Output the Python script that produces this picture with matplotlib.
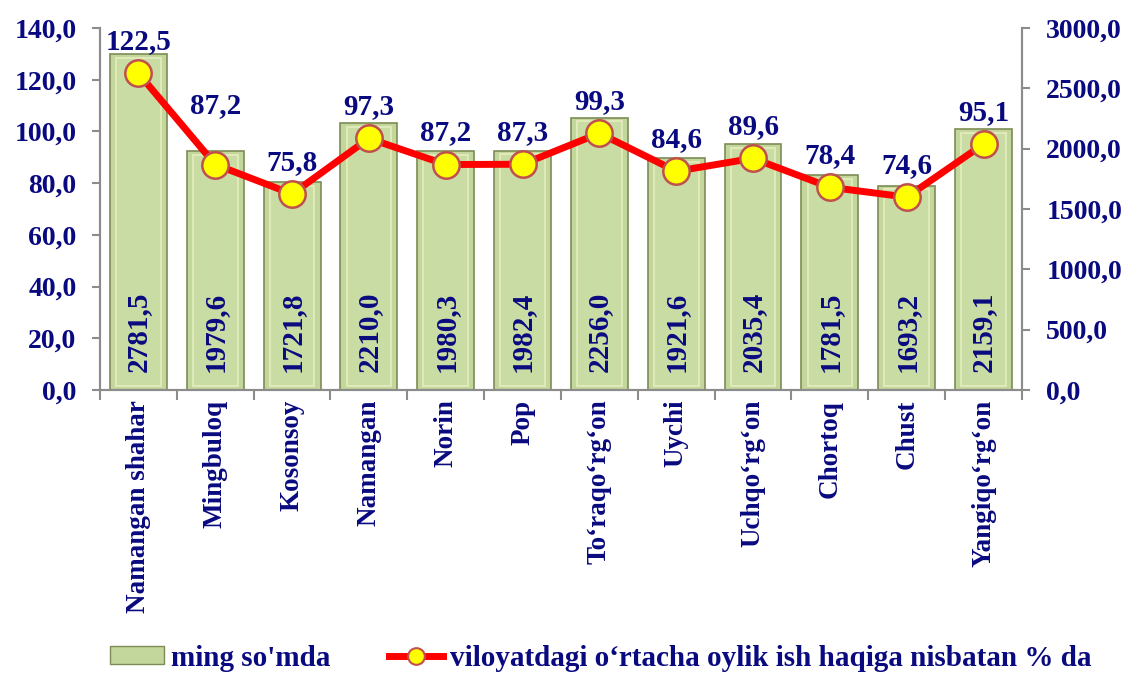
import matplotlib.pyplot as plt
import numpy as np
from matplotlib.patches import Patch
from matplotlib.lines import Line2D

categories = ['Namangan shahar', 'Mingbuloq', 'Kosonsoy', 'Namangan', 'Norin', 'Pop',
              'To\u2018raqo\u2018rg\u2018on', 'Uychi', 'Uchqo\u2018rg\u2018on', 'Chortoq', 'Chust',
              'Yangiqo\u2018rg\u2018on']
salary = [2781.5, 1979.6, 1721.8, 2210.0, 1980.3, 1982.4, 2256.0, 1921.6, 2035.4, 1781.5, 1693.2, 2159.1]
percent = [122.5, 87.2, 75.8, 97.3, 87.2, 87.3, 99.3, 84.6, 89.6, 78.4, 74.6, 95.1]

navy = '#0a0a80'
grey = '#8c8c8c'
plt.rcParams['font.family'] = 'Liberation Serif'
plt.rcParams['font.weight'] = 'bold'


def fmt(v):
    return ('%.1f' % v).replace('.', ',')


fig = plt.figure(figsize=(11.3, 6.73), dpi=100)
ax = fig.add_axes([0.0885, 0.4205, 0.8159, 0.5379])
ax2 = ax.twinx()
ax.set_zorder(ax2.get_zorder() + 1)
ax.patch.set_visible(False)

x = np.arange(len(categories))

# bars on right axis (ming so'mda)
ax2.bar(x, salary, width=0.74, color='#c3d69b', edgecolor='#7d8c55', linewidth=1.2, zorder=2)
ax2.bar(x, np.array(salary) - 60, width=0.58, bottom=30, color='#c9dca3',
        edgecolor='#dfeab8', linewidth=1.5, zorder=3)
for xi, v in zip(x, salary):
    ax2.text(xi, 150, fmt(v), rotation=90, ha='center', va='bottom',
             fontsize=21, color=navy, fontweight='bold', zorder=4)
ax2.set_ylim(0, 3000)
ax2.set_yticks(np.arange(0, 3001, 500))
ax2.set_yticklabels([fmt(t) for t in np.arange(0, 3001, 500)])

# line on left axis (%)
ax.plot(x, percent, color='#ff0000', linewidth=5, marker='o', markersize=19,
        markerfacecolor='#ffff00', markeredgecolor='#c0504d', markeredgewidth=1.8, zorder=5)
for i, (xi, v) in enumerate(zip(x, percent)):
    off = 33 if i == 1 else 13
    ax.annotate(fmt(v), (xi, v), xytext=(0, off), textcoords='offset points',
                ha='center', va='bottom', fontsize=21, color=navy, fontweight='bold')
ax.set_ylim(0, 140)
ax.set_yticks(np.arange(0, 141, 20))
ax.set_yticklabels([fmt(t) for t in np.arange(0, 141, 20)])
ax.set_xlim(-0.5, len(categories) - 0.5)

ax.set_xticks(x)
ax.set_xticklabels(categories, rotation=90, fontsize=19.5, color=navy, fontweight='bold')
ax.set_xticks(np.arange(-0.5, len(categories)), minor=True)
ax.tick_params(axis='x', which='major', length=0, pad=7)
ax.tick_params(axis='x', which='minor', length=7, color=grey, width=1.5)

for a in (ax, ax2):
    a.spines['top'].set_visible(False)
    for s in ('left', 'right', 'bottom'):
        a.spines[s].set_color(grey)
        a.spines[s].set_linewidth(1.5)
ax.tick_params(axis='y', colors=grey, labelcolor=navy, labelsize=20, length=6, width=1.5, pad=11)
ax2.tick_params(axis='y', colors=grey, labelcolor=navy, labelsize=20, length=6, width=1.5, pad=11.5)
for lab in ax.get_yticklabels() + ax2.get_yticklabels():
    lab.set_fontweight('bold')

handles = [Patch(facecolor='#c3d69b', edgecolor='#7d8c55'),
           Line2D([0], [0], color='#ff0000', linewidth=5, marker='o', markersize=12,
                  markerfacecolor='#ffff00', markeredgecolor='#c0504d', markeredgewidth=1.5)]
fig.legend(handles, ['ming so\'mda', 'viloyatdagi o\u2018rtacha oylik ish haqiga nisbatan % da'],
           loc='center left', bbox_to_anchor=(110 / 1130, 1 - 658 / 673), ncol=2, frameon=False,
           labelcolor=navy, handlelength=1.85, handleheight=0.6, handletextpad=0.25,
           borderpad=0, borderaxespad=0, columnspacing=2.0,
           prop={'family': 'Liberation Serif', 'weight': 'bold', 'size': 21})

fig.savefig('out.png', dpi=100)
